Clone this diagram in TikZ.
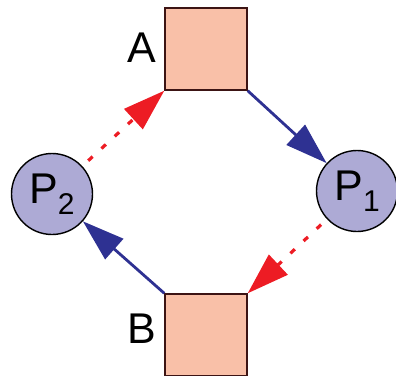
\documentclass[tikz,border=0pt]{standalone}
\usepackage{fontspec}
\setmainfont{Liberation Sans}
\usetikzlibrary{arrows.meta}
\definecolor{boxfill}{RGB}{249,192,168}
\definecolor{boxline}{RGB}{60,20,20}
\definecolor{procfill}{RGB}{173,170,213}
\definecolor{flowblue}{RGB}{46,49,146}
\definecolor{flowred}{RGB}{237,28,36}
\newcommand\subidx[1]{\raisebox{-11pt}{\fontsize{30}{30}\selectfont #1}}

\begin{document}
\begin{tikzpicture}[x=1pt, y=-1pt,
        every node/.style={font=\fontsize{43}{43}\selectfont},
        res/.style={rectangle, draw=boxline, line width=1.4pt, fill=boxfill, minimum size=82pt, inner sep=0pt},
        proc/.style={circle, draw=black, line width=1.4pt, fill=procfill, minimum size=81pt, inner sep=0pt},
        hold/.style={-{Triangle[length=42pt, width=27pt]}, flowblue, line width=2.8pt},
        wait/.style={-{Triangle[length=42pt, width=27pt]}, flowred, line width=3.2pt, dash pattern=on 6pt off 12pt, shorten <=8pt}
    ]
    \useasboundingbox (0,0) rectangle (396,375);
%
    % Resources
    \node[res] (A) at (206,49) {};
    \node[res] (B) at (206,335) {};
    \node (lblA) at (141.5,48) {A};
    \node (lblB) at (141.5,329) {B};
%
    % Processes
    \node[proc] (P1) at (357,191) {P\subidx{1}};
    \node[proc] (P2) at (52,194) {P\subidx{2}};
%
    % Held resources
    \draw[hold] (A.south east) -- (P1);
    \draw[hold] (B.north west) -- (P2);
%
    % Requested resources
    \draw[wait] (P1) -- (B.north east);
    \draw[wait] (P2) -- (A.south west);
%
\end{tikzpicture}
\end{document}
